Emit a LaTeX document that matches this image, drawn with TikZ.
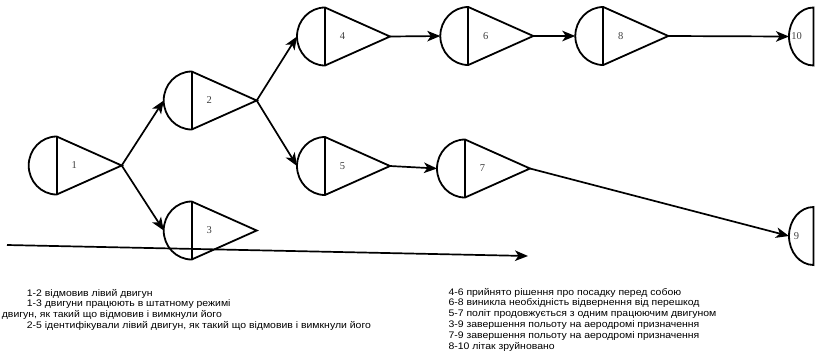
\documentclass[tikz,border=0pt]{standalone}
\usepackage{fontspec}
\setmainfont{Liberation Serif}
\newfontfamily\notefont[FakeStretch=1.1]{Liberation Sans}
\usetikzlibrary{arrows.meta}

\begin{document}
\begin{tikzpicture}[x=1pt,y=-1pt,
  evline/.style={line width=1.8pt, line join=miter},
  flow/.style={line width=1.7pt, -{Stealth[length=13pt,width=10.5pt,inset=3.5pt]}},
  numlabel/.style={font=\fontsize{10.5}{11}\selectfont, text=black!75, inner sep=0pt},
  note/.style={font=\notefont\fontsize{9.5}{10}\selectfont, anchor=base west, inner sep=0pt},
  % event: half disc on the left, triangle pointing right
  event/.pic={
    \draw[evline] (0,29) arc[start angle=90, end angle=270, x radius=28, y radius=29]
      -- (65,0) -- cycle;
    \draw[evline] (0,-29) -- (0,29);
    \coordinate (-w) at (-28,0);
    \coordinate (-e) at (65,0);
    \node[numlabel] (-t) at (17.5,0) {#1};
  },
  % final event: half disc only
  final/.pic={
    \draw[evline] (0,29) arc[start angle=90, end angle=270, x radius=24.5, y radius=29]
      -- cycle;
    \coordinate (-w) at (-24.5,0);
    \node[numlabel] (-t) at (-17,0) {#1};
  }]

\path[use as bounding box, fill=white] (0,0) rectangle (818,360);

% events
\pic (n1) at (56.7,165.5) {event=1};
\pic (n2) at (191.7,100.5) {event=2};
\pic (n3) at (191.7,230.5) {event=3};
\pic (n4) at (325,36.5) {event=4};
\pic (n5) at (325,166) {event=5};
\pic (n6) at (468.3,36) {event=6};
\pic (n7) at (465,168.5) {event=7};
\pic (n8) at (603.3,36) {event=8};
\pic (n10) at (813.5,36.5) {final=10};
\pic (n9) at (813.5,236) {final=9};

% transitions
\draw[flow] (n1-e) -- (n2-w);
\draw[flow] (n1-e) -- (n3-w);
\draw[flow] (n2-e) -- (n4-w);
\draw[flow] (n2-e) -- (n5-w);
\draw[flow] (n4-e) -- (n6-w);
\draw[flow] (n6-e) -- (n8-w);
\draw[flow] (n8-e) -- (n10-w);
\draw[flow] (n5-e) -- (n7-w);
\draw[flow] (n7-e) -- (n9-w);

% time axis
\coordinate (axs) at (7,245);
\coordinate (axe) at (528,256);
\draw[flow] (axs) -- (axe);

% legend, left column
\node[note] (l1) at (26.7,296) {1-2 відмовив лівий двигун};
\node[note] (l2) at (26.7,306.7) {1-3 двигуни працюють в штатному режимі};
\node[note] (l3) at (1.7,317.4) {двигун, як такий що відмовив і вимкнули його};
\node[note] (l4) at (26.7,328.1) {2-5 ідентифікували лівий двигун, як такий що відмовив і вимкнули його};

% legend, right column
\node[note] (r1) at (448.3,295) {4-6 прийнято рішення про посадку перед собою};
\node[note] (r2) at (448.3,305.8) {6-8 виникла необхідність відвернення від перешкод};
\node[note] (r3) at (448.3,316.6) {5-7 політ продовжується з одним працюючим двигуном};
\node[note] (r4) at (448.3,327.4) {3-9 завершення польоту на аеродромі призначення};
\node[note] (r5) at (448.3,338.2) {7-9 завершення польоту на аеродромі призначення};
\node[note] (r6) at (448.3,349) {8-10 літак зруйновано};
\end{tikzpicture}
\end{document}
